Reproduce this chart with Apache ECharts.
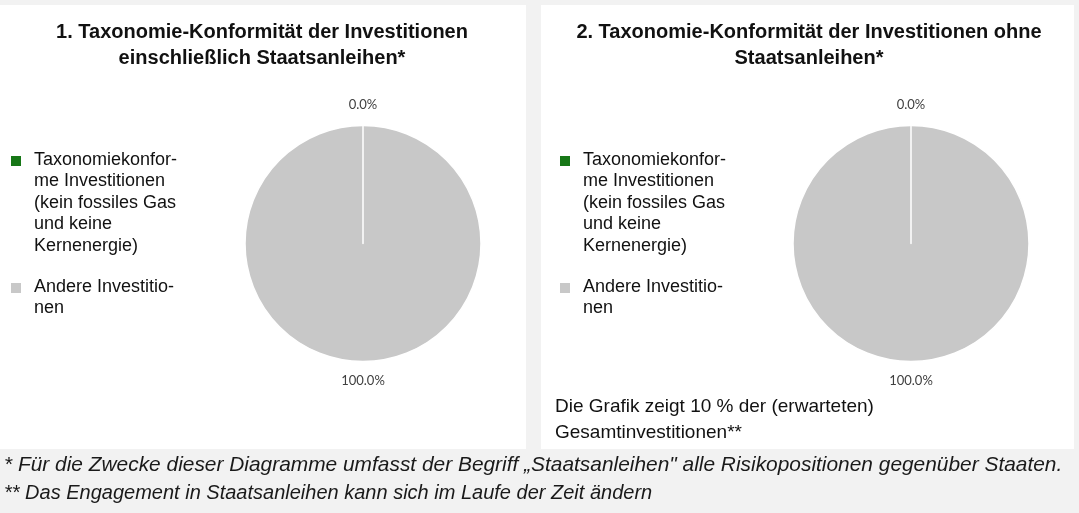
<!DOCTYPE html>
<html>
<head>
<meta charset="utf-8">
<script src="https://cdn.jsdelivr.net/npm/echarts@6/dist/echarts.min.js"></script>
<style>
  html, body { margin: 0; padding: 0; background: #f2f2f2; }
  #chart { width: 1079px; height: 513px; }
</style>
</head>
<body>
<div id="chart"></div>
<script>
// Categories shown in both pies and their legend wording
const categories = [
  'Taxonomiekonforme Investitionen (kein fossiles Gas und keine Kernenergie)',
  'Andere Investitionen'
];
const legendLabels = [
  'Taxonomiekonfor-\nme Investitionen\n(kein fossiles Gas\nund keine\nKernenergie)',
  'Andere Investitio-\nnen'
];
// Shares in percent, same order as categories
const sharesInclSovereign = [0.0, 100.0];
const sharesExclSovereign = [0.0, 100.0];
const sliceColors = ['#177717', '#c8c8c8'];

const chartTitles = [
  '1. Taxonomie-Konformität der Investitionen\neinschließlich Staatsanleihen*',
  '2. Taxonomie-Konformität der Investitionen ohne\nStaatsanleihen*'
];
const panelNote = 'Die Grafik zeigt 10 % der (erwarteten)\nGesamtinvestitionen**';
const footnotes = [
  '* Für die Zwecke dieser Diagramme umfasst der Begriff \u201EStaatsanleihen" alle Risikopositionen gegenüber Staaten.',
  '** Das Engagement in Staatsanleihen kann sich im Laufe der Zeit ändern'
];

const LEGEND_LH = 21.5;
const textFont = '"Liberation Sans", Arial, sans-serif';

// Small slices are drawn last so their white edge stays visible on top
function pieData(values) {
  return categories.map(function (name, i) {
    return { name: name, value: values[i], itemStyle: { color: sliceColors[i] } };
  }).reverse();
}

// Each value label sits centred just above or below the circle
function placeLabel(p) {
  const r = p.rect, l = p.labelRect;
  const above = (l.y + l.height / 2) < (r.y + r.height / 2);
  return {
    x: r.x + r.width / 2,
    y: above ? r.y - 20 : r.y + r.height + 19,
    align: 'center',
    verticalAlign: 'middle'
  };
}

function pieSeries(values, cx) {
  return {
    type: 'pie',
    center: [cx, 243.5],
    radius: 118,
    startAngle: 90,
    clockwise: true,
    silent: true,
    animation: false,
    data: pieData(values),
    itemStyle: { borderColor: '#ffffff', borderWidth: 1.5 },
    label: {
      show: true,
      position: 'outside',
      formatter: function (p) { return p.value.toFixed(1) + '%'; },
      fontFamily: 'Lato, "Open Sans", sans-serif',
      fontSize: 13,
      color: '#404040'
    },
    labelLine: { show: false },
    labelLayout: placeLabel,
    emphasis: { disabled: true }
  };
}

// Legend: a square marker beside the first line of each wrapped label
function legendBlock(left) {
  const els = [];
  let lineY = 160;
  categories.forEach(function (name, i) {
    const lines = legendLabels[i].split('\n').length;
    els.push({
      type: 'rect', silent: true,
      shape: { x: left, y: lineY - 4, width: 10, height: 10 },
      style: { fill: sliceColors[i] }
    });
    els.push({
      type: 'text', silent: true,
      x: left + 23, y: lineY - LEGEND_LH / 2,
      style: {
        text: legendLabels[i],
        fontFamily: textFont, fontSize: 18, lineHeight: LEGEND_LH,
        fill: '#111111', align: 'left', verticalAlign: 'top'
      }
    });
    lineY += lines * LEGEND_LH + 19.5;
  });
  return els;
}

const titleStyle = {
  fontFamily: textFont,
  fontSize: 20,
  fontWeight: 'bold',
  lineHeight: 26,
  color: '#111111'
};

function footnoteStyle(size) {
  return { fontFamily: textFont, fontSize: size, fontStyle: 'italic', fontWeight: 'normal', lineHeight: 28, color: '#1a1a1a' };
}

const chart = echarts.init(document.getElementById('chart'), null, { renderer: 'canvas' });
chart.setOption({
  backgroundColor: '#f2f2f2',
  animation: false,
  graphic: [
    { type: 'rect', z: -10, shape: { x: 0, y: 5, width: 526, height: 444 }, style: { fill: '#ffffff' }, silent: true },
    { type: 'rect', z: -10, shape: { x: 541, y: 5, width: 533, height: 444 }, style: { fill: '#ffffff' }, silent: true }
  ].concat(legendBlock(11), legendBlock(560)),
  title: [
    { text: chartTitles[0], left: 262, top: 19, padding: 0, textAlign: 'center', textStyle: titleStyle },
    { text: chartTitles[1], left: 809, top: 19, padding: 0, textAlign: 'center', textStyle: titleStyle },
    {
      text: panelNote, left: 555, top: 394, padding: 0,
      textStyle: { fontFamily: textFont, fontSize: 19, fontWeight: 'normal', lineHeight: 26, color: '#111111' }
    },
    { text: footnotes[0], left: 4, top: 451, padding: 0, textStyle: footnoteStyle(20.9) },
    { text: footnotes[1], left: 4, top: 479, padding: 0, textStyle: footnoteStyle(20) }
  ],
  series: [
    pieSeries(sharesInclSovereign, 363),
    pieSeries(sharesExclSovereign, 911)
  ]
});
</script>
</body>
</html>
